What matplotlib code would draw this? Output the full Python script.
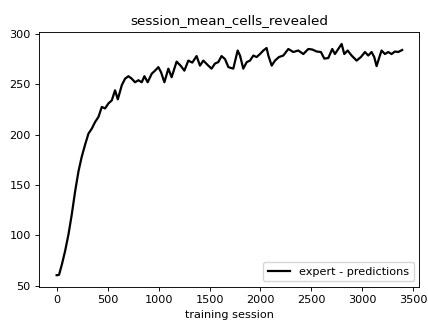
import numpy as np
import matplotlib.pyplot as plt

# points (session, mean cells revealed)
session = [0, 12, 24, 51, 83, 116, 148, 181, 214, 246, 279, 312, 345, 377,
           410, 443, 475, 508, 541, 573, 600, 639, 671, 704, 737, 769, 802,
           835, 861, 893, 933, 965, 998, 1024, 1057, 1096, 1128, 1177, 1220,
           1253, 1292, 1331, 1373, 1406, 1439, 1488, 1520, 1553, 1586, 1618,
           1652, 1685, 1733, 1776, 1799, 1831, 1865, 1897, 1930, 1962, 1995,
           2028, 2060, 2077, 2110, 2142, 2181, 2224, 2273, 2322, 2371, 2420,
           2469, 2508, 2551, 2593, 2626, 2665, 2704, 2730, 2763, 2796, 2822,
           2855, 2894, 2943, 2985, 3025, 3057, 3090, 3116, 3139, 3162, 3188,
           3221, 3253, 3286, 3319, 3351, 3390]
cells = [60.5, 60.5, 61, 71, 84.5, 101, 120.5, 143.5, 163.5, 178, 190, 201,
         206, 212.5, 217.5, 227.5, 226, 231, 234, 244, 235, 249, 255.5, 258,
         255.5, 252, 254, 252, 258, 252, 260.5, 263.5, 267, 262, 252, 265.5,
         257, 272.5, 268, 263.5, 273.5, 271.5, 278, 268.5, 273.5, 268.5,
         265.5, 270.5, 272, 278, 275, 267, 265.5, 283.5, 278.5, 265.5, 272,
         273.5, 278.5, 277, 280, 283.5, 286, 278.5, 268.5, 273.5, 277, 278.5,
         285, 282, 283.5, 280, 285, 284.5, 282.5, 282, 275.5, 276, 285, 280,
         285, 290, 280, 283.5, 278.5, 273.5, 277, 282, 278.5, 282, 277, 268,
         275.5, 283.5, 280, 282, 280, 282.5, 282, 284]

fig, ax = plt.subplots(figsize=(4.28, 3.24), dpi=100)
fig.subplots_adjust(left=0.092, right=0.98, top=0.9, bottom=0.115)
ax.plot(session, cells, color='black', linewidth=1.6, label='expert - predictions')
ax.set_title('session_mean_cells_revealed', fontsize=9.7)
ax.set_xlabel('training session', fontsize=8.1, labelpad=3.5)
ax.tick_params(labelsize=8.1, width=0.65, length=2.8, pad=3.5)
for s in ax.spines.values():
    s.set_linewidth(0.65)
ax.set_xticks(np.arange(0, 3501, 500))
ax.set_yticks(np.arange(50, 301, 50))
ax.legend(loc='lower right', fontsize=8.1)
fig.savefig('out.png', dpi=100)
